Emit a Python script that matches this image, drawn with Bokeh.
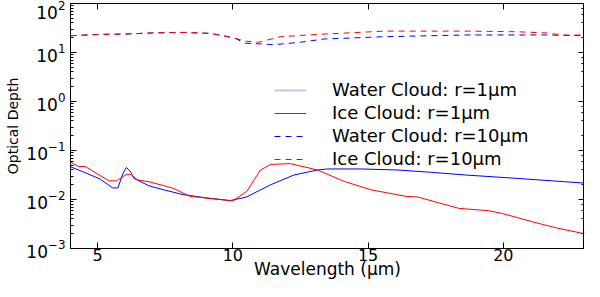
from bokeh.plotting import figure
from bokeh.models import (Range1d, FixedTicker, LinearAxis, LogAxis, Legend, LegendItem,
                          LogTicker, CustomJSTickFormatter)
from bokeh.embed import file_html
from bokeh.resources import INLINE

# Data
water1_wl = [4.0, 4.56, 5.1, 5.56, 5.75, 5.95, 6.07, 6.2, 6.35, 6.9, 7.5, 8.16, 9.0, 9.9,
             10.5, 11.4, 12.26, 13.13, 13.5, 14.74, 16.1, 17.3, 18.6, 20.5, 23.0]
water1_tau = [0.0465, 0.035, 0.026, 0.0172, 0.0172, 0.035, 0.045, 0.038, 0.027, 0.019, 0.0155,
              0.0126, 0.0108, 0.0095, 0.0112, 0.020, 0.0316, 0.040, 0.042, 0.042, 0.040, 0.036,
              0.0316, 0.027, 0.0216]

ice1_wl = [4.0, 4.3, 4.56, 5.0, 5.43, 5.7, 6.05, 6.25, 6.48, 6.9, 7.54, 7.79, 8.4, 9.15, 9.9,
           10.02, 10.52, 11.02, 11.4, 12.13, 13.13, 14.12, 15.1, 16.36, 16.85, 18.35, 19.46,
           19.95, 21.08, 22.0, 23.0]
ice1_tau = [0.058, 0.047, 0.047, 0.033, 0.024, 0.024, 0.032, 0.032, 0.025, 0.023, 0.0186, 0.017,
            0.0117, 0.0105, 0.0095, 0.0095, 0.0147, 0.040, 0.052, 0.054, 0.040, 0.0234, 0.0158,
            0.0117, 0.0112, 0.0066, 0.0059, 0.0052, 0.0035, 0.0026, 0.002]

water10_wl = [4.0, 5.05, 6.0, 7.04, 8.16, 9.15, 9.65, 10.08, 10.46, 11.0, 11.5, 12.5, 13.4,
              15.6, 18.7, 21.5, 23.0]
water10_tau = [22, 23.4, 23.8, 25.1, 25.7, 24.6, 22, 19.5, 15.5, 15.0, 14.4, 16.2, 18.9, 21,
               22.8, 22.8, 22]

ice10_wl = [4.0, 5.05, 6.0, 7.04, 8.16, 9.15, 9.65, 10.08, 10.5, 10.96, 11.76, 13.13, 15.6,
            18.7, 20.5, 21.6, 22.2, 23.0]
ice10_tau = [22, 23.4, 23.8, 25.1, 25.7, 24.6, 22, 19.5, 17.0, 16.2, 21, 23.4, 27.3, 27.3,
             26.5, 25.1, 22.7, 22.7]

x_ticks = [5, 10, 15, 20]
labels = ["Water Cloud: r=1\u03bcm", "Ice Cloud: r=1\u03bcm",
          "Water Cloud: r=10\u03bcm", "Ice Cloud: r=10\u03bcm"]

FONT = "DejaVu Sans"

p = figure(width=584, height=281, y_axis_type="log", output_backend="svg",
           toolbar_location=None, x_range=Range1d(4, 23), y_range=Range1d(1e-3, 1e2),
           min_border_left=70, min_border_right=0, min_border_top=3, min_border_bottom=20)
p.grid.visible = False
p.outline_line_color = "black"
p.outline_line_width = 1
p.background_fill_color = "white"
p.border_fill_color = "white"

r_w1 = p.line(water1_wl, water1_tau, line_color="#0000ff", line_width=1)
r_i1 = p.line(ice1_wl, ice1_tau, line_color="#ff0000", line_width=1)
r_w10 = p.line(water10_wl, water10_tau, line_color="#0000ff", line_width=1, line_dash="6 5")
r_i10 = p.line(ice10_wl, ice10_tau, line_color="#ff0000", line_width=1, line_dash="6 5")
# single-point line: draws nothing, only supplies the pale legend swatch
r_w1_leg = p.line(water1_wl[:1], water1_tau[:1], line_color="#c4c4f0", line_width=2)

xa = p.xaxis[0]
xa.ticker = FixedTicker(ticks=x_ticks, minor_ticks=[])
xa.axis_label = "Wavelength (\u03bcm)"
ya = p.yaxis[0]
ya.axis_label = "Optical Depth"

for ax in (xa, ya):
    ax.major_tick_in = 6
    ax.major_tick_out = 0
    ax.minor_tick_in = 3
    ax.minor_tick_out = 0
    ax.axis_line_color = "black"
    ax.major_label_text_font = FONT
    ax.major_label_text_font_size = "17px"
    ax.major_label_text_color = "black"
    ax.axis_label_text_font = FONT
    ax.axis_label_text_font_size = "17px"
    ax.axis_label_text_font_style = "normal"
    ax.axis_label_text_color = "black"

xa.major_label_text_font_size = "16px"
xa.major_label_standoff = 0
xa.axis_label_standoff = -5
ya.major_label_standoff = 5
ya.axis_label_standoff = 2
ya.axis_label_text_font_size = "14px"

blank = CustomJSTickFormatter(code="return ''")
top = LinearAxis(ticker=FixedTicker(ticks=x_ticks, minor_ticks=[]), formatter=blank)
right = LogAxis(ticker=LogTicker(), formatter=blank)
for ax in (top, right):
    ax.major_tick_in = 6
    ax.major_tick_out = 0
    ax.minor_tick_in = 3
    ax.minor_tick_out = 0
    ax.major_label_text_font_size = "1px"
    ax.major_label_standoff = 0
    ax.axis_label_standoff = 0
    ax.axis_label_text_font_size = "1px"
    ax.axis_line_color = "black"
p.add_layout(top, "above")
p.add_layout(right, "right")

legend = Legend(items=[LegendItem(label=labels[0], renderers=[r_w1_leg]),
                       LegendItem(label=labels[1], renderers=[r_i1]),
                       LegendItem(label=labels[2], renderers=[r_w10]),
                       LegendItem(label=labels[3], renderers=[r_i10])],
                location=(204, 79))
legend.label_text_font = FONT
legend.label_text_font_size = "18px"
legend.label_text_color = "black"
legend.glyph_width = 32
legend.glyph_height = 20
legend.label_height = 20
legend.label_standoff = 26
legend.spacing = 2
legend.padding = 0
legend.margin = 0
legend.border_line_alpha = 0
legend.background_fill_alpha = 0
p.add_layout(legend)

open("out.html", "w").write(file_html(p, INLINE))
